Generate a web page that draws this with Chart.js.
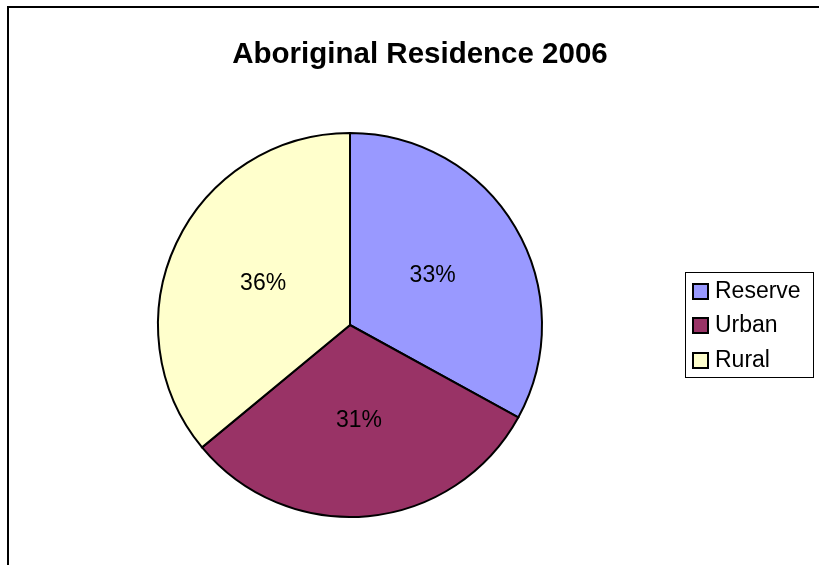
<!DOCTYPE html>
<html>
<head>
<meta charset="utf-8">
<script src="https://cdn.jsdelivr.net/npm/chart.js@4/dist/chart.umd.min.js"></script>
<style>
  html, body { margin: 0; padding: 0; background: #fff; }
  #wrap { position: relative; width: 819px; height: 565px; }
</style>
</head>
<body>
<div id="wrap"><canvas id="c" width="819" height="565"></canvas></div>
<script>
const titleText = "Aboriginal Residence 2006";
const categories = ["Reserve", "Urban", "Rural"];
const shares = [33, 31, 36];
const sliceColors = ["#9999FF", "#993366", "#FFFFCC"];

const FONT = '"Liberation Sans", Arial, sans-serif';

const decorPlugin = {
  id: 'decor',
  beforeDraw(chart) {
    const ctx = chart.ctx;
    ctx.save();
    ctx.fillStyle = '#fff';
    ctx.fillRect(0, 0, chart.width, chart.height);
    // frame
    ctx.strokeStyle = '#000';
    ctx.lineWidth = 2;
    ctx.beginPath();
    ctx.moveTo(8, chart.height + 2);
    ctx.lineTo(8, 7);
    ctx.lineTo(chart.width + 2, 7);
    ctx.stroke();
    // title
    ctx.fillStyle = '#000';
    ctx.font = 'bold 29.5px ' + FONT;
    ctx.textAlign = 'center';
    ctx.textBaseline = 'alphabetic';
    ctx.fillText(titleText, 420, 63);
    ctx.restore();
  },
  afterDraw(chart) {
    const ctx = chart.ctx;
    const meta = chart.getDatasetMeta(0);
    const data = chart.data.datasets[0].data;
    const total = data.reduce((a, b) => a + b, 0);
    ctx.save();
    ctx.fillStyle = '#000';
    ctx.font = '23px ' + FONT;
    ctx.textAlign = 'center';
    ctx.textBaseline = 'middle';
    meta.data.forEach((arc, i) => {
      const p = arc.tooltipPosition();
      ctx.fillText(Math.round(data[i] / total * 100) + '%', p.x, p.y);
    });
    // legend
    const lx = 685, ly = 272, lw = 128, lh = 105;
    ctx.strokeStyle = '#000';
    ctx.lineWidth = 1;
    ctx.strokeRect(lx + 0.5, ly + 0.5, lw, lh);
    ctx.textAlign = 'left';
    const rowY = [291, 325, 360];
    chart.data.labels.forEach((lab, i) => {
      const y = rowY[i];
      ctx.fillStyle = chart.data.datasets[0].backgroundColor[i];
      ctx.fillRect(693, y - 7, 15, 15);
      ctx.lineWidth = 2;
      ctx.strokeRect(693, y - 7, 15, 15);
      ctx.fillStyle = '#000';
      ctx.fillText(lab, 715, y + 1);
    });
    ctx.restore();
  }
};

new Chart(document.getElementById('c'), {
  type: 'pie',
  data: {
    labels: categories,
    datasets: [{
      data: shares,
      backgroundColor: sliceColors,
      borderColor: '#000',
      borderWidth: 2,
      borderJoinStyle: 'miter'
    }]
  },
  options: {
    responsive: false,
    animation: false,
    layout: { padding: { left: 157, right: 276, top: 132, bottom: 47 } },
    plugins: {
      legend: { display: false },
      title: { display: false },
      tooltip: { enabled: false }
    }
  },
  plugins: [decorPlugin]
});
</script>
</body>
</html>
